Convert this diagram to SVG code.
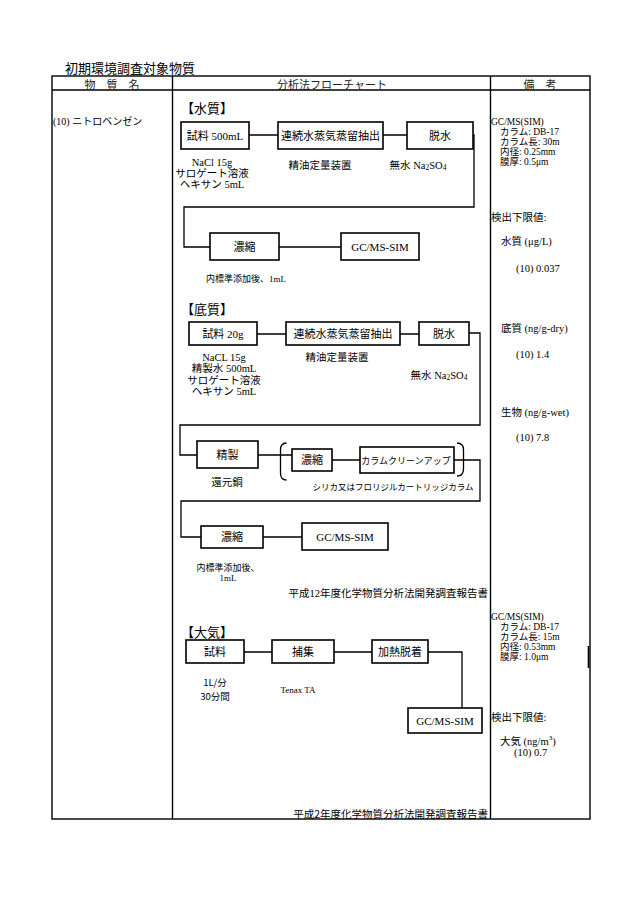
<svg xmlns="http://www.w3.org/2000/svg" width="643" height="909" viewBox="0 0 643 909">
<style>
text{font-family:"Liberation Serif","Noto Sans CJK JP",serif;fill:#000;}
.g{font-family:"Noto Sans CJK JP","Liberation Sans",sans-serif;}
.bx{fill:#fff;stroke:#000;stroke-width:1.6;}
.ln{fill:none;stroke:#000;stroke-width:1.3;}
.tb{fill:none;stroke:#000;stroke-width:1.4;}
.lab{font-size:11px;text-anchor:middle;dominant-baseline:central;}
.sub{font-size:10.5px;text-anchor:middle;dominant-baseline:central;}
.sec{font-size:13px;dominant-baseline:central;}
.rm{font-size:9.5px;dominant-baseline:central;}
.rl{font-size:10.5px;dominant-baseline:central;}
.hd{font-size:11px;text-anchor:middle;dominant-baseline:central;fill:#222;}
</style>
<rect width="643" height="909" fill="#fff"/>
<g id="table">
<text class="g" x="65" y="67.5" font-size="13" dominant-baseline="central">初期環境調査対象物質</text>
<rect class="tb" x="52" y="76" width="538" height="743"/>
<line class="tb" x1="52" y1="90" x2="590" y2="90"/>
<line class="tb" x1="172.5" y1="76" x2="172.5" y2="819"/>
<line class="tb" x1="490.5" y1="76" x2="490.5" y2="819"/>
<line x1="588.5" y1="646" x2="588.5" y2="668" stroke="#000" stroke-width="1.6"/>
<text class="hd g" x="112" y="83.5">物　質　名</text>
<text class="hd g" x="332" y="83.5">分析法フローチャート</text>
<text class="hd g" x="540" y="83.5">備　考</text>
<text x="53" y="121" font-size="10" dominant-baseline="central">(10) ニトロベンゼン</text>
</g>
<g id="connectors">
<path class="ln" d="M249,135H278M383,135H407M473,135H474V207H184V247H210M279,247H341"/>
<path class="ln" d="M257,334H286M400,334H419M469,333H480V425H180V455H197M258,455H292M332,460H360M454,460H480V501H181V537H201M263,537H302"/>
<path class="ln" d="M244,652H272M334,652H372M428,652H462V708"/>
<path class="ln" stroke-width="1.5" d="M286.5,443Q280.5,443 280.5,450V473Q280.5,480 286.5,480"/>
<path class="ln" stroke-width="1.5" d="M457,443Q463.5,443 463.5,450V469Q463.5,476 457,476"/>
</g>
<g id="water">
<text class="sec" x="181" y="108">【水質】</text>
<g id="w1"><rect class="bx" x="181" y="122" width="68" height="27"/><text class="lab" x="215" y="135.5">試料 500mL</text>
<text class="sub" x="212" y="162">NaCl 15g</text><text class="sub" x="212" y="173">サロゲート溶液</text><text class="sub" x="212" y="184">ヘキサン 5mL</text></g>
<g id="w2"><rect class="bx" x="278" y="122" width="105" height="27"/><text class="lab" x="330.5" y="135.5">連続水蒸気蒸留抽出</text>
<text class="sub" x="320" y="165">精油定量装置</text></g>
<g id="w3"><rect class="bx" x="407" y="122" width="66" height="27"/><text class="lab" x="440" y="135.5">脱水</text>
<text class="sub" x="418" y="165">無水 Na<tspan font-size="7.5" dy="2">2</tspan><tspan dy="-2">SO</tspan><tspan font-size="7.5" dy="2">4</tspan></text></g>
<g id="w4"><rect class="bx" x="210" y="233" width="69" height="27"/><text class="lab" x="244.5" y="246.5">濃縮</text>
<text x="206" y="279" font-size="9" dominant-baseline="central">内標準添加後、1mL</text></g>
<g id="w5"><rect class="bx" x="341" y="233" width="78" height="27"/><text class="lab" x="380" y="246.5">GC/MS-SIM</text></g>
</g>
<g id="sediment">
<text class="sec" x="181" y="309">【底質】</text>
<g id="s1"><rect class="bx" x="189" y="322" width="68" height="23"/><text class="lab" x="223" y="333.5">試料 20g</text>
<text class="sub" x="224" y="357">NaCL 15g</text><text class="sub" x="224" y="368.5">精製水 500mL</text><text class="sub" x="224" y="380">サロゲート溶液</text><text class="sub" x="224" y="391.5">ヘキサン 5mL</text></g>
<g id="s2"><rect class="bx" x="286" y="322" width="114" height="23"/><text class="lab" x="343" y="333.5">連続水蒸気蒸留抽出</text>
<text class="sub" x="337" y="357">精油定量装置</text></g>
<g id="s3"><rect class="bx" x="419" y="322" width="50" height="23"/><text class="lab" x="444" y="333.5">脱水</text>
<text class="sub" x="439" y="375">無水 Na<tspan font-size="7.5" dy="2">2</tspan><tspan dy="-2">SO</tspan><tspan font-size="7.5" dy="2">4</tspan></text></g>
<g id="s4"><rect class="bx" x="197" y="441" width="61" height="27"/><text class="lab" x="227.5" y="454.5">精製</text>
<text class="sub" x="227" y="482">還元銅</text></g>
<g id="s5"><rect class="bx" x="292" y="449" width="40" height="22"/><text class="lab" x="312" y="460">濃縮</text></g>
<g id="s6"><rect class="bx" x="360" y="447" width="94" height="26"/><text class="g" x="406" y="460" font-size="9" text-anchor="middle" dominant-baseline="central">カラムクリーンアップ</text>
<text class="g" x="393" y="486" font-size="8.5" text-anchor="middle" dominant-baseline="central">シリカ又はフロリジルカートリッジカラム</text></g>
<g id="s7"><rect class="bx" x="201" y="526" width="62" height="22"/><text class="lab" x="232" y="537">濃縮</text>
<text x="228" y="568" font-size="9" text-anchor="middle" dominant-baseline="central">内標準添加後、</text><text x="228" y="578" font-size="9" text-anchor="middle" dominant-baseline="central">1mL</text></g>
<g id="s8"><rect class="bx" x="302" y="523" width="86" height="27"/><text class="lab" x="345" y="536.5">GC/MS-SIM</text></g>
<text x="488" y="593" font-size="10.5" text-anchor="end" dominant-baseline="central">平成12年度化学物質分析法開発調査報告書</text>
</g>
<g id="air">
<text class="sec" x="181" y="632">【大気】</text>
<g id="a1"><rect class="bx" x="186" y="640" width="58" height="23"/><text class="lab" x="215" y="651.5">試料</text>
<text class="g" x="215" y="682" font-size="9.5" text-anchor="middle" dominant-baseline="central">1L/分</text><text class="g" x="215" y="696" font-size="9.5" text-anchor="middle" dominant-baseline="central">30分間</text></g>
<g id="a2"><rect class="bx" x="272" y="640" width="62" height="23"/><text class="lab" x="303" y="651.5">捕集</text>
<text x="298" y="690" font-size="9" text-anchor="middle" dominant-baseline="central">Tenax TA</text></g>
<g id="a3"><rect class="bx" x="372" y="640" width="56" height="23"/><text class="lab" x="400" y="651.5">加熱脱着</text></g>
<g id="a4"><rect class="bx" x="408" y="708" width="74" height="25"/><text class="lab" x="445" y="720.5">GC/MS-SIM</text></g>
<text class="g" x="488" y="813" font-size="10.5" text-anchor="end" dominant-baseline="central">平成2年度化学物質分析法開発調査報告書</text>
</g>
<g id="remarks">
<text class="rm" x="491" y="121.5">GC/MS(SIM)</text>
<text class="rm" x="500" y="131.5">カラム: DB-17</text>
<text class="rm" x="500" y="141.5">カラム長: 30m</text>
<text class="rm" x="500" y="151.5">内径: 0.25mm</text>
<text class="rm" x="500" y="161.5">膜厚: 0.5μm</text>
<text class="rl" x="491" y="217">検出下限値:</text>
<text class="rl" x="501" y="241">水質 (μg/L)</text>
<text class="rl" x="516" y="268">(10) 0.037</text>
<text class="rl" x="501" y="328">底質 (ng/g-dry)</text>
<text class="rl" x="516" y="354">(10)  1.4</text>
<text class="rl" x="501" y="412">生物 (ng/g-wet)</text>
<text class="rl" x="516" y="437">(10) 7.8</text>
<text class="rm" x="491" y="617">GC/MS(SIM)</text>
<text class="rm" x="500" y="627">カラム:  DB-17</text>
<text class="rm" x="500" y="637">カラム長: 15m</text>
<text class="rm" x="500" y="647">内径: 0.53mm</text>
<text class="rm" x="500" y="657">膜厚: 1.0μm</text>
<text class="rl" x="491" y="717">検出下限値:</text>
<text class="rl" x="500" y="741">大気 (ng/m<tspan font-size="7" dy="-3">3</tspan><tspan dy="3">)</tspan></text>
<text class="rl" x="514" y="752">(10) 0.7</text>
</g>
</svg>
